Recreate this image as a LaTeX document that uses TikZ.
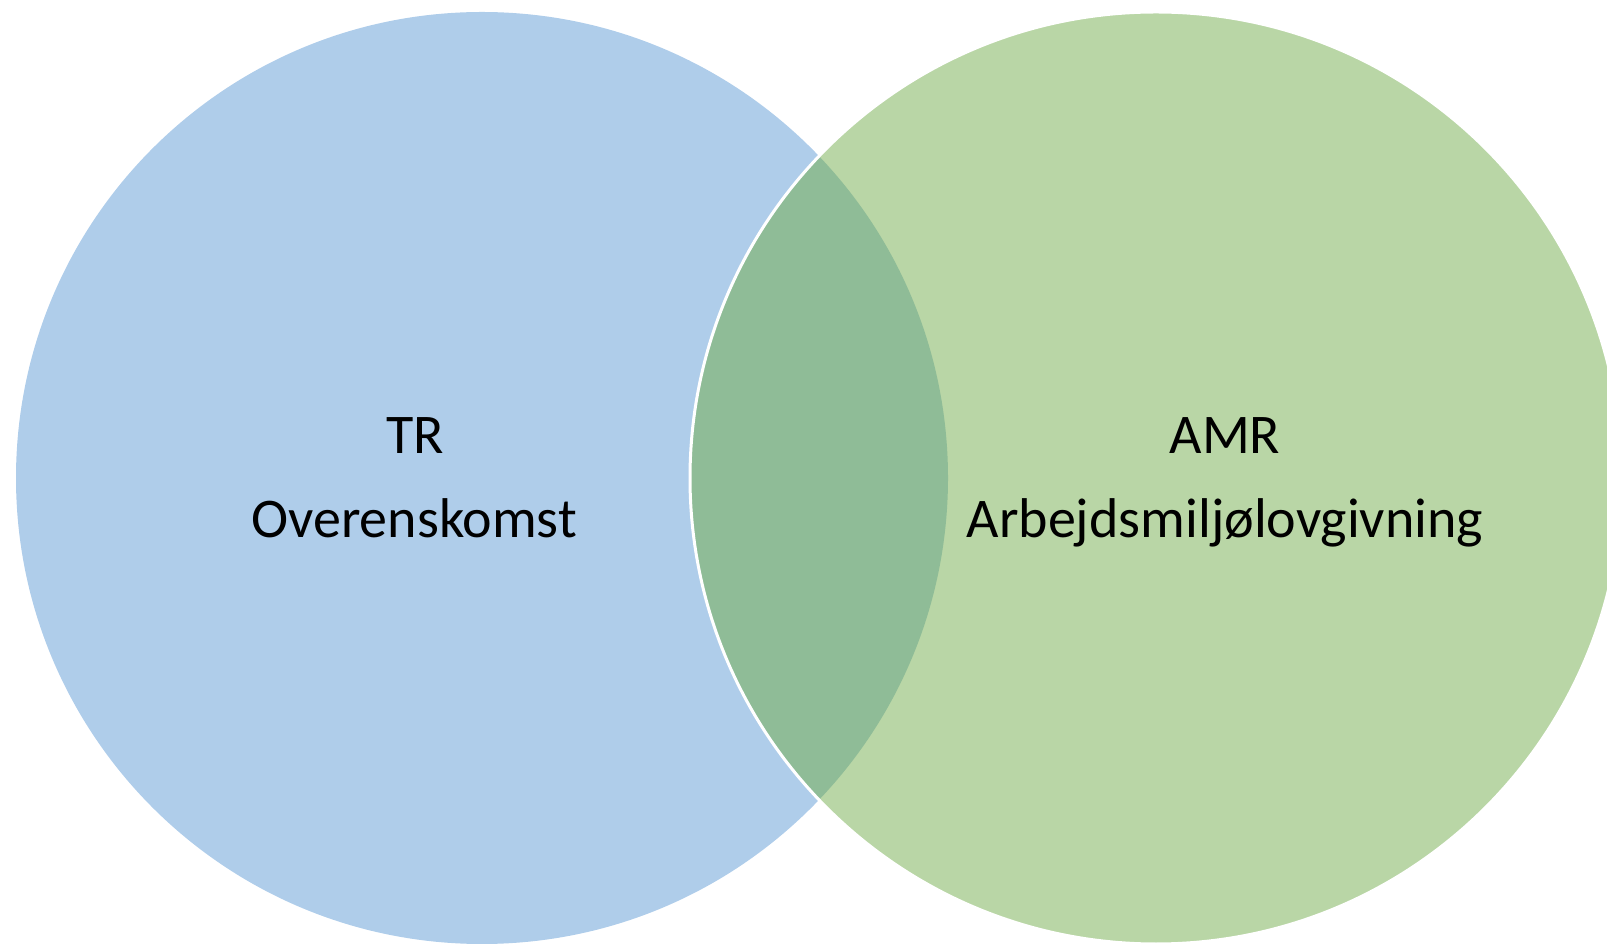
\documentclass[tikz,border=0pt]{standalone}
\usepackage{fontspec}
\setmainfont{Carlito}
\usepackage{tikz}
\definecolor{BleuTR}{RGB}{175,205,234}
\definecolor{VertAMR}{RGB}{185,214,166}
\definecolor{VertCommun}{RGB}{143,188,151}
\tikzstyle{disqueTR}  =[fill=BleuTR]
\tikzstyle{disqueAMR} =[fill=VertAMR]
\tikzstyle{bordAMR}   =[draw=white, line width=1.5pt]
\tikzstyle{texte}     =[anchor=base, font=\fontsize{28}{34}\selectfont, inner sep=0pt]

\begin{document}
\begin{tikzpicture}[x=1pt,y=1pt]
 \useasboundingbox (0,0) rectangle (803.5,471.5);
 \begin{scope}
  \clip (0,0) rectangle (803.5,471.5);
  \fill[disqueTR] (241,232.5) circle (233);
  \fill[disqueAMR] (578,232.5) circle (233);
  \begin{scope}
   \clip (241,232.5) circle (233);
   \fill[VertCommun] (578,232.5) circle (233);
  \end{scope}
  \draw[bordAMR] (578,232.5) circle (233);
 \end{scope}
 \node[texte] (TR) at (207.5,244.5) {TR};
 \node[texte] (overenskomst) at (207,202.5) {Overenskomst};
 \node[texte] (AMR) at (612.5,244.5) {AMR};
 \node[texte] (lovgivning) at (612.5,202.5) {Arbejdsmiljølovgivning};
\end{tikzpicture}
\end{document}
